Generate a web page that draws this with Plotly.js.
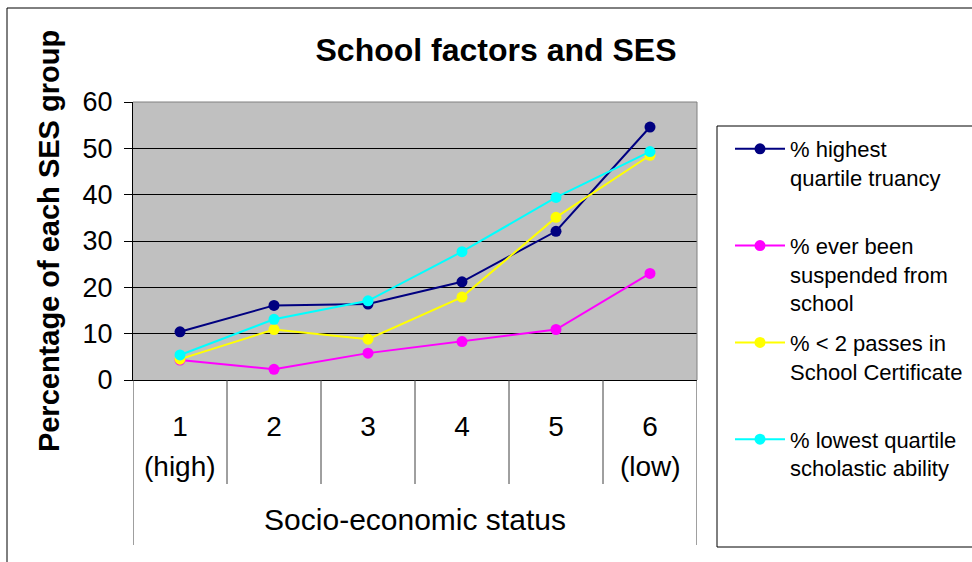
<!DOCTYPE html>
<html>
<head>
<meta charset="utf-8">
<script src="https://cdn.plot.ly/plotly-3.0.1.min.js"></script>
<style>html,body{margin:0;padding:0;background:#fff;}#chart{width:972px;height:562px;}</style>
</head>
<body>
<div id="chart"></div>
<script>
// ---- data ----
const categories = ["1", "2", "3", "4", "5", "6"];
const subLabels = ["(high)", "", "", "", "", "(low)"];
const truancy = [10.4, 16.1, 16.4, 21.2, 32.1, 54.6];
const suspended = [4.3, 2.3, 5.8, 8.3, 10.9, 23.0];
const passes = [4.5, 10.9, 8.8, 17.9, 35.1, 48.5];
const lowAbility = [5.4, 13.1, 17.1, 27.7, 39.4, 49.3];
const seriesNames = [
  "% highest<br>quartile truancy<br> ",
  "% ever been<br>suspended from<br>school",
  "% &lt; 2 passes in<br>School Certificate<br> ",
  "% lowest quartile<br>scholastic ability"
];
const seriesColors = ["#000080", "#FF00FF", "#FFFF00", "#00FFFF"];
const seriesValues = [truancy, suspended, passes, lowAbility];

const FONT = "Liberation Sans, Arial, sans-serif";

const traces = seriesValues.map((vals, i) => ({
  type: "scatter",
  mode: "lines+markers",
  x: categories,
  y: vals,
  name: seriesNames[i],
  legendgroup: "g" + i,
  line: { color: seriesColors[i], width: 2 },
  marker: { color: seriesColors[i], size: 11, symbol: "circle" }
}));

// plot geometry helpers (pixels -> paper)
const L = 133, R = 697, T = 102, B = 380;
const px = v => (v - L) / (R - L);
const py = v => (B - v) / (B - T);

const shapes = [];
// outer chart border
shapes.push({ type: "rect", xref: "paper", yref: "paper", x0: px(7), x1: px(990), y0: py(8), y1: py(600),
  line: { color: "#000", width: 1 }, fillcolor: "rgba(0,0,0,0)" });
// legend box
shapes.push({ type: "rect", xref: "paper", yref: "paper", x0: px(717), x1: px(990), y0: py(126), y1: py(547),
  line: { color: "#000", width: 1 }, fillcolor: "rgba(0,0,0,0)" });
// plot area top/right border
shapes.push({ type: "line", xref: "paper", yref: "paper", x0: 0, x1: 1, y0: 1, y1: 1, line: { color: "#808080", width: 1 } });
shapes.push({ type: "line", xref: "paper", yref: "paper", x0: 1, x1: 1, y0: 0, y1: 1, line: { color: "#808080", width: 1 } });
// category dividers below the axis
for (let i = 0; i <= categories.length; i++) {
  const outer = (i === 0 || i === categories.length);
  shapes.push({ type: "line", xref: "x", yref: "paper", x0: i - 0.5, x1: i - 0.5,
    y0: 0, y1: outer ? py(545) : py(484), line: { color: "#404040", width: 1 } });
}

const annotations = subLabels.map((t, i) => ({
  xref: "x", yref: "paper", x: i, y: py(466), text: t, showarrow: false,
  xanchor: "center", yanchor: "middle", font: { family: FONT, size: 28, color: "#000" }
})).filter(a => a.text !== "");

const layout = {
  width: 972, height: 562,
  margin: { l: L, r: 972 - R, t: T, b: 562 - B, pad: 0, autoexpand: false },
  paper_bgcolor: "#fff",
  plot_bgcolor: "#C0C0C0",
  font: { family: FONT, color: "#000" },
  title: { text: "School factors and SES", font: { family: FONT, size: 32, weight: 700, color: "#000" },
    x: 496 / 972, xref: "container", xanchor: "center", y: 1 - 50 / 562, yref: "container", yanchor: "middle" },
  xaxis: {
    type: "category", range: [-0.5, categories.length - 0.5], fixedrange: true,
    showgrid: false, zeroline: false, showline: true, linecolor: "#000", linewidth: 1,
    ticks: "", tickfont: { family: FONT, size: 28, color: "#000" }, ticklabelstandoff: 21,
    title: { text: "Socio-economic status", font: { family: FONT, size: 30, color: "#000" }, standoff: 68 }
  },
  yaxis: {
    range: [0, 60], dtick: 10, tick0: 0, fixedrange: true,
    showgrid: true, gridcolor: "#000", gridwidth: 1, zeroline: false,
    showline: true, linecolor: "#000", linewidth: 1,
    ticks: "outside", ticklen: 8, tickcolor: "#000", tickwidth: 1,
    tickfont: { family: FONT, size: 27, color: "#000" }, ticklabelstandoff: 6,
    title: { text: "Percentage of each SES group", font: { family: FONT, size: 29, weight: 700, color: "#000" }, standoff: 14 }
  },
  legend: {
    x: px(730), xanchor: "left", y: py(128), yanchor: "top",
    bgcolor: "rgba(0,0,0,0)", borderwidth: 0, maxheight: 480,
    font: { family: FONT, size: 22, color: "#000" },
    valign: "top", traceorder: "grouped", tracegroupgap: 8, itemwidth: 50
  },
  shapes: shapes,
  annotations: annotations,
  showlegend: true
};

Plotly.newPlot("chart", traces, layout, { displayModeBar: false, staticPlot: true });
</script>
</body>
</html>
